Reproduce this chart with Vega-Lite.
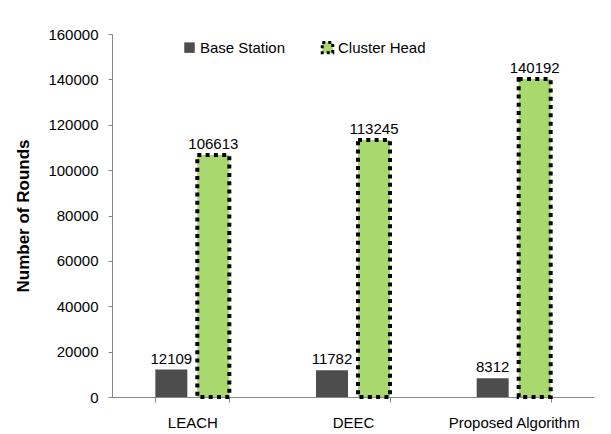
{
  "$schema": "https://vega.github.io/schema/vega-lite/v6.json",
  "width": 482,
  "height": 363,
  "autosize": {"type": "none"},
  "padding": {"left": 112, "top": 34, "right": 17, "bottom": 37},
  "background": "white",
  "config": {
    "view": {"stroke": null},
    "font": "Liberation Sans",
    "axis": {"grid": false, "domainColor": "#868686", "tickColor": "#868686", "labelColor": "#000000", "labelFont": "Liberation Sans", "labelFontSize": 15}
  },
  "data": {
    "values": [
      {"protocol": "LEACH", "node": "Base Station", "rounds": 12109},
      {"protocol": "LEACH", "node": "Cluster Head", "rounds": 106613},
      {"protocol": "DEEC", "node": "Base Station", "rounds": 11782},
      {"protocol": "DEEC", "node": "Cluster Head", "rounds": 113245},
      {"protocol": "Proposed Algorithm", "node": "Base Station", "rounds": 8312},
      {"protocol": "Proposed Algorithm", "node": "Cluster Head", "rounds": 140192}
    ]
  },
  "encoding": {
    "x": {
      "field": "protocol",
      "type": "nominal",
      "sort": ["LEACH", "DEEC", "Proposed Algorithm"],
      "scale": {"paddingInner": 0.5395, "paddingOuter": 0.2697},
      "axis": {"title": null, "labelAngle": 0, "tickBand": "extent", "tickSize": 5, "labelPadding": 13}
    },
    "xOffset": {
      "field": "node",
      "type": "nominal",
      "sort": ["Base Station", "Cluster Head"],
      "scale": {"paddingInner": 0.238, "paddingOuter": 0}
    },
    "y": {
      "field": "rounds",
      "type": "quantitative",
      "scale": {"domain": [0, 160000], "nice": false},
      "axis": {
        "title": "Number of Rounds",
        "titleFont": "Liberation Sans",
        "titleFontSize": 17,
        "titleFontWeight": "bold",
        "titleColor": "#000000",
        "titlePadding": 15,
        "values": [0, 20000, 40000, 60000, 80000, 100000, 120000, 140000, 160000],
        "format": "d",
        "tickSize": 4,
        "labelPadding": 10
      }
    }
  },
  "layer": [
    {
      "mark": {"type": "bar", "strokeWidth": 4, "strokeDash": [4, 4.3]},
      "encoding": {
        "fill": {
          "field": "node",
          "type": "nominal",
          "sort": ["Base Station", "Cluster Head"],
          "scale": {"range": ["#4d4d4d", "#a9d86e"]},
          "legend": {
            "title": null,
            "orient": "none",
            "legendX": 70,
            "legendY": 6,
            "direction": "horizontal",
            "symbolType": "square",
            "symbolSize": 110,
            "labelFontSize": 15,
            "labelColor": "#000000",
            "labelOffset": 3,
            "columnPadding": 30,
            "encode": {
              "symbols": {
                "update": {
                  "stroke": {"scale": "stroke", "field": "value"},
                  "strokeWidth": {"value": 3},
                  "strokeDash": {"value": [3, 3]}
                }
              }
            }
          }
        },
        "stroke": {
          "field": "node",
          "type": "nominal",
          "sort": ["Base Station", "Cluster Head"],
          "scale": {"range": ["rgba(0,0,0,0)", "#000000"]},
          "legend": null
        }
      }
    },
    {
      "mark": {"type": "text", "baseline": "alphabetic", "dy": -6, "fontSize": 15, "color": "#000000"},
      "encoding": {
        "text": {"field": "rounds", "type": "quantitative", "format": "d"}
      }
    }
  ]
}
